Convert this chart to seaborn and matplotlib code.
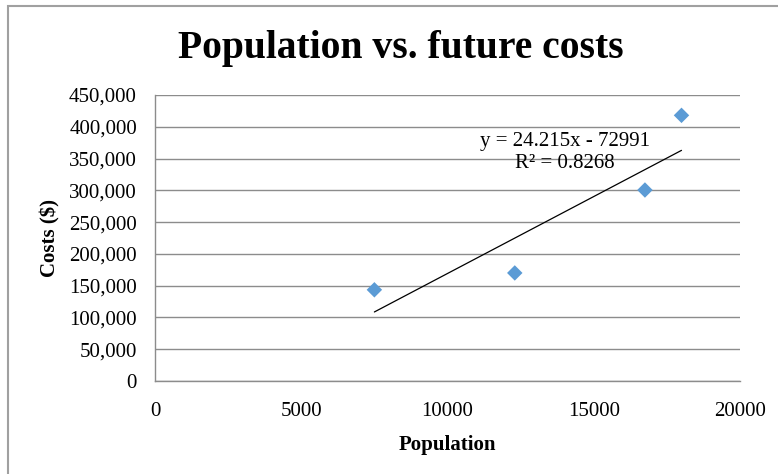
import matplotlib
matplotlib.use("Agg")
import matplotlib.pyplot as plt
from matplotlib.patches import Rectangle
from matplotlib.ticker import FuncFormatter
import numpy as np
import pandas as pd
import seaborn as sns

# Observed towns: population and projected costs
population = [7500, 12300, 16750, 18000]
costs = [143500, 170000, 300500, 418000]

# Linear trendline reported on the chart
slope = 24.215
intercept = -72991
r_squared = 0.8268

x_ticks = [0, 5000, 10000, 15000, 20000]
y_ticks = [0, 50000, 100000, 150000, 200000, 250000, 300000, 350000, 400000, 450000]

title = "Population vs. future costs"
x_label = "Population"
y_label = "Costs ($)"

sns.set_theme(style="white")
plt.rcParams["font.family"] = ["Liberation Serif", "DejaVu Serif"]
plt.rcParams["text.color"] = "black"

df = pd.DataFrame({"Population": population, "Costs": costs})

fig = plt.figure(figsize=(7.78, 4.74), dpi=100)
ax = fig.add_axes([155 / 778, 1 - 381 / 474, (740 - 155) / 778, (381 - 95) / 474])

grey = "#8c8c8c"

# Outer chart frame
fig.patches.append(Rectangle((8 / 778, -0.05), 1.2, 1 - 6 / 474 + 0.05,
                             transform=fig.transFigure, fill=False,
                             edgecolor="#a0a0a0", linewidth=1.5, zorder=0))

ax.set_axisbelow(True)
ax.yaxis.grid(True, color=grey, linewidth=1)
ax.xaxis.grid(False)

sns.scatterplot(data=df, x="Population", y="Costs", marker="D", s=62,
                color="#5B9BD5", edgecolor="none", ax=ax, zorder=3)

# Trendline across the observed population range
tx = np.array([min(population), max(population)])
ax.plot(tx, slope * tx + intercept, color="black", linewidth=0.9, zorder=2)

sign = "-" if intercept < 0 else "+"
eq = f"y = {slope:.3f}x {sign} {abs(intercept):.0f}\nR² = {r_squared:.4f}"
ax.text(14000, 359500, eq, ha="center", va="center", fontsize=15,
        color="black", linespacing=1.2)

ax.set_xlim(0, 20000)
ax.set_ylim(0, 450000)
ax.set_xticks(x_ticks)
ax.set_yticks(y_ticks)
ax.yaxis.set_major_formatter(FuncFormatter(lambda v, p: f"{v:,.0f}"))
ax.xaxis.set_major_formatter(FuncFormatter(lambda v, p: f"{v:.0f}"))

for side in ("top", "right"):
    ax.spines[side].set_visible(False)
for side in ("left", "bottom"):
    ax.spines[side].set_color(grey)
    ax.spines[side].set_linewidth(1)

ax.tick_params(axis="both", which="major", direction="out", length=5,
               width=1, color=grey, labelsize=15, labelcolor="black")
ax.tick_params(axis="y", pad=8)
ax.tick_params(axis="x", pad=10)

ax.set_xlabel(x_label, fontsize=15, fontweight="bold", labelpad=10, color="black")
ax.set_ylabel(y_label, fontsize=15, fontweight="bold", labelpad=6, color="black")

fig.text(401 / 778, 1 - 58 / 474, title, ha="center", va="baseline",
         fontsize=28.5, fontweight="bold", color="black")

fig.savefig("out.png", dpi=100, facecolor="white")
